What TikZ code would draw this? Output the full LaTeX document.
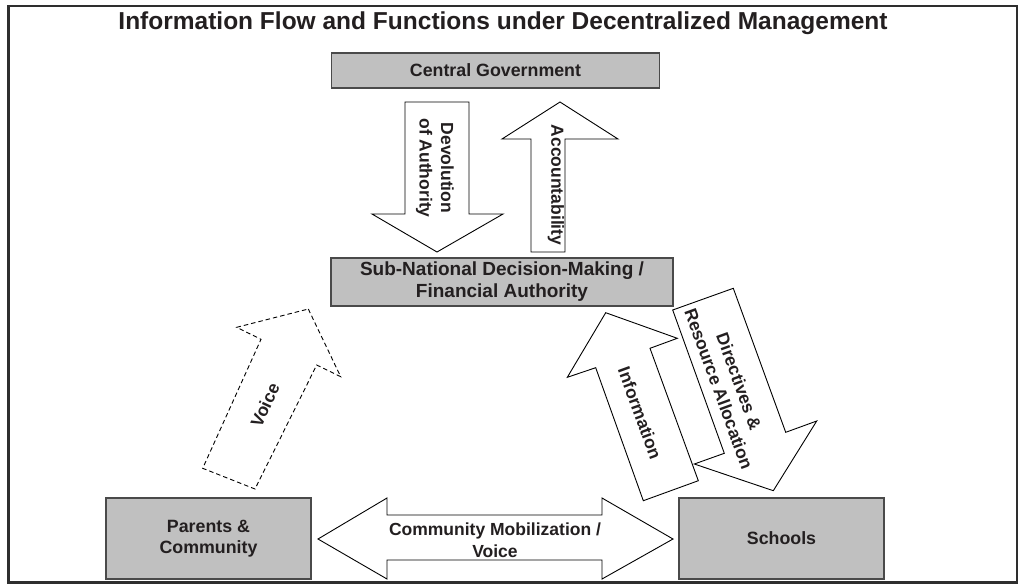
\documentclass[tikz,border=0pt]{standalone}
\usepackage{fontspec}
\setmainfont{Liberation Sans}
\definecolor{boxfill}{HTML}{C0C0C0}
\definecolor{boxline}{HTML}{4A4A4A}
\definecolor{txt}{HTML}{231F20}
\definecolor{framec}{HTML}{2E2E2E}
\begin{document}
\begin{tikzpicture}[x=1pt,y=-1pt,
  framebox/.style={draw=framec, line width=2.6pt},
  box/.style={draw=boxline, fill=boxfill, line width=1.3pt, inner sep=0pt,
    font=\bfseries\fontsize{17.8}{21.5}\selectfont, text=txt, align=center},
  blk/.style={draw=black, fill=white, line width=0.9pt, line join=miter},
  dblk/.style={draw=black, line width=0.9pt, dash pattern=on 4.5pt off 3pt, line join=miter},
  lbl/.style={font=\bfseries\fontsize{17.5}{21.5}\selectfont, text=txt, align=center, inner sep=0pt},
  ttl/.style={font=\bfseries\fontsize{24.5}{28}\selectfont, text=txt, inner sep=0pt}]
\useasboundingbox (0,0) rectangle (1022,584);
\fill[white] (0,0) rectangle (1022,584);
\draw[framebox] (8.5,6) rectangle (1017,582.5);

\node[ttl] (title) at (503,23) {Information Flow and Functions under Decentralized Management};

% boxes
\node[box, minimum width=328pt, minimum height=35pt] (cg) at (495.5,70.5) {Central Government};
\node[box, minimum width=342pt, minimum height=48pt, font=\bfseries\fontsize{19}{22}\selectfont] (sn) at (502,282) {Sub-National Decision-Making /\\Financial Authority};
\node[box, minimum width=205pt, minimum height=81pt] (pc) at (208.5,538.5) {Parents \&\\Community};
\node[box, minimum width=205pt, minimum height=81pt] (sc) at (781.5,538.5) {Schools};

% block arrows
\draw[blk] (405,102) -- (469,102) -- (469,214) -- (503,214) -- (437,252) -- (372,214) -- (405,214) -- cycle;
\draw[blk] (531,252) -- (531,139) -- (502,139) -- (560,102) -- (618,139) -- (565,139) -- (565,252) -- cycle;
\draw[blk] (318,539) -- (387,498) -- (387,515) -- (602,515) -- (602,498) -- (673,539) -- (602,579) -- (602,560) -- (387,560) -- (387,579) -- cycle;
\draw[blk] (605.7,312.7) -- (677.3,338.3) -- (650,348.3) -- (698.3,480.7) -- (643.3,500.7) -- (595.7,367.7) -- (567.3,377.3) -- cycle;
\draw[blk] (672.7,310) -- (733.3,288.3) -- (785.7,432.3) -- (816.7,421) -- (773.3,490.7) -- (694.3,464) -- (724.3,453.3) -- cycle;
\draw[dblk] (308.3,309) -- (340.7,376.7) -- (316.7,365) -- (255,489) -- (202.7,468.3) -- (261,339.3) -- (236.7,327.3) -- cycle;

% arrow labels
\node[lbl, rotate=-90] (dev) at (435,168) {Devolution\\of Authority};
\node[lbl, rotate=-90] (acc) at (556,185) {Accountability};
\node[lbl] (cm) at (495,540) {Community Mobilization /\\Voice};
\node[lbl, rotate=-70] (inf) at (640,413) {Information};
\node[lbl, rotate=-70] (dir) at (729,385) {Directives \&\\Resource Allocation};
\node[lbl, rotate=65] (voice) at (265,405) {Voice};
\end{tikzpicture}
\end{document}
